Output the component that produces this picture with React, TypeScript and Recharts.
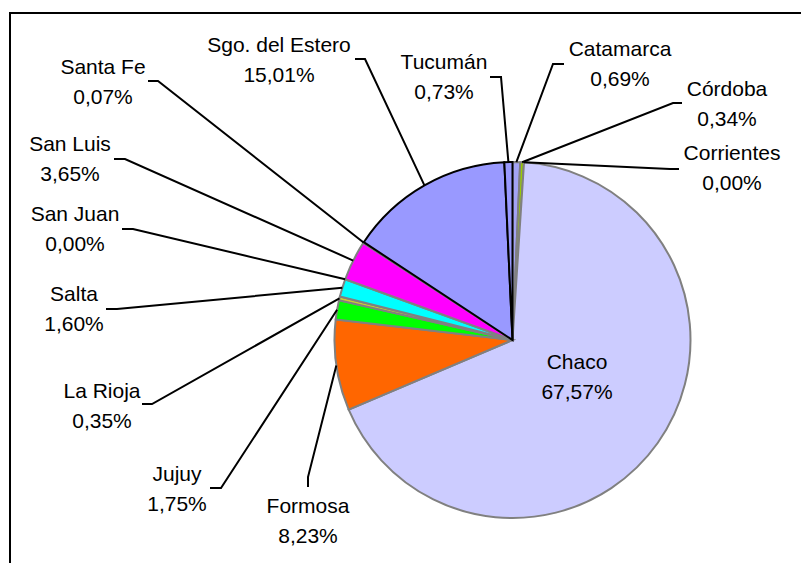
import { PieChart, Pie, Cell } from 'recharts'

// orden como en la planilla original (ch después de c)
const provincias = [
  'Catamarca', 'Córdoba', 'Corrientes', 'Chaco', 'Formosa', 'Jujuy', 'La Rioja',
  'Salta', 'San Juan', 'San Luis', 'Santa Fe', 'Sgo. del Estero', 'Tucumán',
]
const porcentajes = [0.69, 0.34, 0.0, 67.57, 8.23, 1.75, 0.35, 1.6, 0.0, 3.65, 0.07, 15.01, 0.73]

const colores = [
  '#A3A3F5', '#99CC00', '#FFFF99', '#CCCCFF', '#FF6600', '#00FF00', '#CCCC33',
  '#00FFFF', '#FFCC99', '#FF00FF', '#800080', '#9999FF', '#9999FF',
]
const bordes = [
  '#808080', '#808080', '#808080', '#808080', '#808080', '#808080', '#808080',
  '#808080', '#808080', '#808080', '#808080', '#000000', '#000000',
]

// posición de cada etiqueta: centro del texto (tx, ty), fin del tramo corto (ax, ay), quiebre (bx, by)
type Etiqueta = { tx: number; ty: number; ax?: number; ay?: number; bx?: number; by?: number }
const etiquetas: Etiqueta[] = [
  { tx: 620, ty: 63, ax: 564, ay: 64, bx: 553, by: 64 },
  { tx: 727, ty: 103, ax: 682, ay: 103, bx: 673, by: 103 },
  { tx: 732, ty: 167, ax: 679, ay: 169, bx: 670, by: 169 },
  { tx: 577, ty: 376 },
  { tx: 308, ty: 520, ax: 308, ay: 487, bx: 308, by: 477 },
  { tx: 177, ty: 488, ax: 210, ay: 488, bx: 221, by: 488 },
  { tx: 102, ty: 405, ax: 142, ay: 404, bx: 152, by: 404 },
  { tx: 74, ty: 308, ax: 106, ay: 309, bx: 117, by: 309 },
  { tx: 75, ty: 228, ax: 122, ay: 229, bx: 133, by: 229 },
  { tx: 70, ty: 158, ax: 114, ay: 159, bx: 125, by: 159 },
  { tx: 103, ty: 81, ax: 148, ay: 81, bx: 158, by: 81 },
  { tx: 279, ty: 59, ax: 355, ay: 59, bx: 365, by: 59 },
  { tx: 444, ty: 76, ax: 490, ay: 77, bx: 501, by: 77 },
]

const datos = provincias.map((p, i) => ({ name: p, value: porcentajes[i] }))

const fmt = (v: number) => v.toFixed(2).replace('.', ',') + '%'

const RAD = Math.PI / 180

const renderLabel = (props: any) => {
  const { cx, cy, midAngle, outerRadius, index } = props
  const e = etiquetas[index]
  if (!e) return null
  const px = cx + outerRadius * Math.cos(-midAngle * RAD)
  const py = cy + outerRadius * Math.sin(-midAngle * RAD)
  const txt = { fontSize: 21, fill: '#000', fontFamily: 'Liberation Sans, Arial, sans-serif' }
  return (
    <g key={`lbl-${index}`}>
      {e.bx !== undefined && (
        <polyline
          points={`${px},${py} ${e.bx},${e.by} ${e.ax},${e.ay}`}
          fill="none"
          stroke="#000"
          strokeWidth={2}
        />
      )}
      <text x={e.tx} y={e.ty - 15} textAnchor="middle" dominantBaseline="central" {...txt}>
        {provincias[index]}
      </text>
      <text x={e.tx} y={e.ty + 15} textAnchor="middle" dominantBaseline="central" {...txt}>
        {fmt(porcentajes[index])}
      </text>
    </g>
  )
}

export default function App() {
  return (
    <div style={{ position: 'absolute', left: 0, top: 0, width: 801, height: 563, background: '#fff', overflow: 'hidden' }}>
      <PieChart width={801} height={563} margin={{ top: 0, right: 0, bottom: 0, left: 0 }}>
        <Pie
          data={datos}
          dataKey="value"
          nameKey="name"
          cx={512.5}
          cy={340}
          outerRadius={178}
          startAngle={90}
          endAngle={-270}
          label={renderLabel}
          labelLine={false}
          isAnimationActive={false}
        >
          {datos.map((d, i) => (
            <Cell key={d.name} fill={colores[i]} stroke={bordes[i]} strokeWidth={2} />
          ))}
        </Pie>
      </PieChart>
      <div
        style={{
          position: 'absolute', left: 9, top: 12, width: 820, height: 600,
          borderTop: '2px solid #000', borderLeft: '2px solid #000', pointerEvents: 'none',
        }}
      />
    </div>
  )
}
